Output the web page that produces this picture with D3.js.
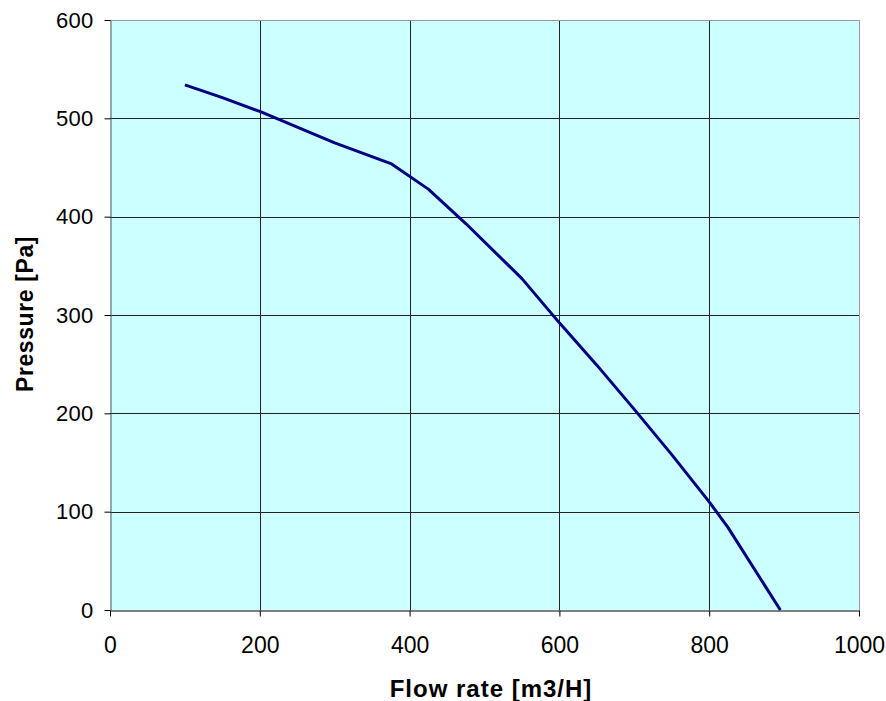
<!DOCTYPE html>
<html>
<head>
<meta charset="utf-8">
<script src="https://cdn.jsdelivr.net/npm/d3@7"></script>
<style>
  body { margin: 0; background: #fff; }
  svg { display: block; font-family: "Liberation Sans", Arial, sans-serif; }
</style>
</head>
<body>
<svg id="chart"></svg>
<script>

// fan curve
const flowRate = [100, 150, 200, 300, 375, 425, 475, 550, 600, 650, 700, 750, 800, 825, 895];
const pressure = [534, 521, 507, 475, 454, 428, 393, 337, 292, 249, 204, 158, 110, 84, 0];

const xTicks = [0, 200, 400, 600, 800, 1000];
const yTicks = [0, 100, 200, 300, 400, 500, 600];

function drawChart(){

    const width = 886, height = 701;
    const left = 110, right = 859, top = 20, bottom = 610;

    const svg = d3.select("#chart")
                  .attr("width", width)
                  .attr("height", height);

    svg.selectAll("*").remove();

    const x = d3.scaleLinear().domain([0, 1000]).range([left, right]);
    const y = d3.scaleLinear().domain([0, 600]).range([bottom, top]);

    svg.append("rect")
        .attr("x", left).attr("y", top)
        .attr("width", right - left).attr("height", bottom - top)
        .attr("fill", "#ccffff");

    // grid
    svg.append("g")
        .selectAll("line")
        .data(xTicks.slice(1, -1))
        .join("line")
        .attr("x1", d => Math.round(x(d)) + 0.5).attr("x2", d => Math.round(x(d)) + 0.5)
        .attr("y1", top).attr("y2", bottom)
        .style("stroke", "#222")
        .style("stroke-width", 1);

    svg.append("g")
        .selectAll("line")
        .data(yTicks.slice(1, -1))
        .join("line")
        .attr("x1", left).attr("x2", right)
        .attr("y1", d => Math.round(y(d)) + 0.5).attr("y2", d => Math.round(y(d)) + 0.5)
        .style("stroke", "#222")
        .style("stroke-width", 1);

    // top and right frame
    svg.append("path")
        .attr("d", `M${left},${top + 0.5}H${right + 0.5}V${bottom}`)
        .attr("fill", "none")
        .style("stroke", "#999")
        .style("stroke-width", 1);

    const xAxis = svg.append("g")
        .attr("transform", `translate(0,${Math.round(y(0)) + 0.5})`)
        .call(d3.axisBottom(x).tickValues(xTicks).tickFormat(d3.format("d"))
              .tickSize(6).tickPadding(20).tickSizeOuter(0));

    const yAxis = svg.append("g")
        .attr("transform", `translate(${left + 0.5},0)`)
        .call(d3.axisLeft(y).tickValues(yTicks).tickFormat(d3.format("d"))
              .tickSize(6).tickPadding(11).tickSizeOuter(0));

    [xAxis, yAxis].forEach(a => {
        a.select(".domain").style("stroke", "#000");
        a.selectAll(".tick line").style("stroke", "#000");
        a.selectAll("text")
            .style("font-family", "'Liberation Sans', Arial, sans-serif")
            .attr("fill", "#000");
    });
    xAxis.selectAll("text").style("font-size", "23px");
    yAxis.selectAll("text").style("font-size", "22px").style("letter-spacing", "0.3px");
    yAxis.select(".domain").style("stroke", "#555");

    const line = d3.line()
        .x((d, i) => x(flowRate[i]))
        .y(d => y(d));

    svg.append("path")
        .datum(pressure)
        .attr("fill", "none")
        .attr("stroke", "#000080")
        .attr("stroke-width", 3)
        .attr("stroke-linejoin", "round")
        .attr("d", line);

    svg.append("text")
        .attr("x", 491)
        .attr("y", 697)
        .attr("text-anchor", "middle")
        .style("font-size", "24px")
        .style("font-weight", "bold")
        .style("letter-spacing", "1px")
        .text("Flow rate [m3/H]");

    svg.append("text")
        .attr("transform", `translate(33,${(top + bottom) / 2 - 1}) rotate(-90)`)
        .attr("text-anchor", "middle")
        .style("font-size", "23px")
        .style("font-weight", "bold")
        .style("letter-spacing", "0.6px")
        .text("Pressure [Pa]");
}

drawChart();

</script>
</body>
</html>
